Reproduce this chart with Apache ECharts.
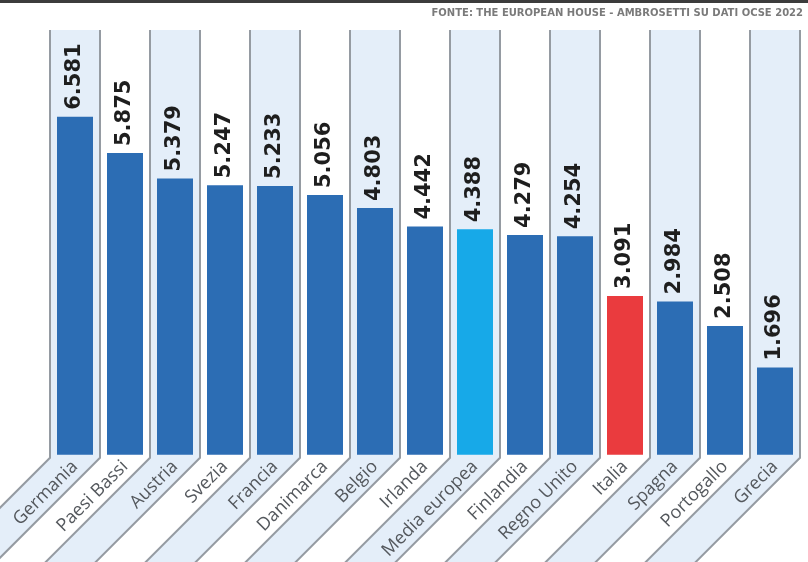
<!DOCTYPE html>
<html>
<head>
<meta charset="utf-8">
<script src="https://cdn.jsdelivr.net/npm/echarts@6/dist/echarts.min.js"></script>
<style>
html,body{margin:0;padding:0;background:#fff;}
#chart{width:808px;height:562px;}
</style>
</head>
<body>
<div id="chart"></div>
<script>
const categories = ['Germania','Paesi Bassi','Austria','Svezia','Francia','Danimarca','Belgio','Irlanda','Media europea','Finlandia','Regno Unito','Italia','Spagna','Portogallo','Grecia'];
const values = [6.581, 5.875, 5.379, 5.247, 5.233, 5.056, 4.803, 4.442, 4.388, 4.279, 4.254, 3.091, 2.984, 2.508, 1.696];
const sourceText = 'FONTE: THE EUROPEAN HOUSE - AMBROSETTI SU DATI OCSE 2022';
const highlightColors = { 'Media europea': '#17a9e8', 'Italia': '#ea3b3e' };
const baseColor = '#2c6db4';
const yMax = 8.27;

const chart = echarts.init(document.getElementById('chart'), null, { renderer: 'canvas' });

const barData = values.map((v, i) => ({
  value: v,
  itemStyle: { color: highlightColors[categories[i]] || baseColor }
}));

function renderColumn(params, api) {
  const i = api.value(0);
  const top = api.coord([i, yMax]);
  const base = api.coord([i, 0]);
  const half = api.size([1, 0])[0] / 2;
  const left = top[0] - half;
  const right = top[0] + half;
  const yTop = top[1];
  const yBend = base[1] + 3;
  const D = 200;
  const fill = (i % 2 === 0) ? '#e4eef9' : '#ffffff';
  const children = [
    {
      type: 'polygon',
      shape: { points: [[left, yTop], [right, yTop], [right, yBend], [right - D, yBend + D], [left - D, yBend + D], [left, yBend]] },
      style: { fill: fill }
    },
    {
      type: 'polyline',
      shape: { points: [[left, yTop], [left, yBend], [left - D, yBend + D]] },
      style: { stroke: '#959ba2', lineWidth: 2, fill: null }
    }
  ];
  if (i === categories.length - 1) {
    children.push({
      type: 'polyline',
      shape: { points: [[right, yTop], [right, yBend], [right - D, yBend + D]] },
      style: { stroke: '#959ba2', lineWidth: 2, fill: null }
    });
  }
  return { type: 'group', children: children };
}

const option = {
  animation: false,
  grid: { left: 50, right: 8, top: 30, bottom: 102, containLabel: false },
  xAxis: {
    type: 'category',
    data: categories,
    boundaryGap: true,
    axisLine: { show: false },
    axisTick: { show: false },
    axisLabel: {
      interval: 0,
      rotate: 45,
      margin: 9,
      fontFamily: 'Open Sans',
      fontSize: 18,
      color: '#54585d'
    },
    z: 10
  },
  yAxis: {
    type: 'value',
    min: 0,
    max: yMax,
    show: false
  },
  graphic: [
    { type: 'rect', shape: { x: 0, y: 0, width: 808, height: 3 }, style: { fill: '#3c3c3c' } },
    {
      type: 'text', right: 5, top: 8,
      style: { text: sourceText, fill: '#7a7a7a', font: 'bold 10px "DejaVu Sans"' }
    }
  ],
  series: [
    {
      type: 'custom',
      renderItem: renderColumn,
      data: categories.map((c, i) => [i]),
      encode: { x: 0 },
      z: 1,
      silent: true
    },
    {
      type: 'bar',
      data: barData,
      barWidth: 36,
      z: 5,
      label: {
        show: true,
        position: 'top',
        distance: 7,
        rotate: 90,
        align: 'left',
        verticalAlign: 'middle',
        formatter: p => p.value.toFixed(3),
        fontFamily: 'DejaVu Sans',
        fontWeight: 'bold',
        fontSize: 21,
        color: '#1e1e1e'
      }
    }
  ]
};
chart.setOption(option);
</script>
</body>
</html>
